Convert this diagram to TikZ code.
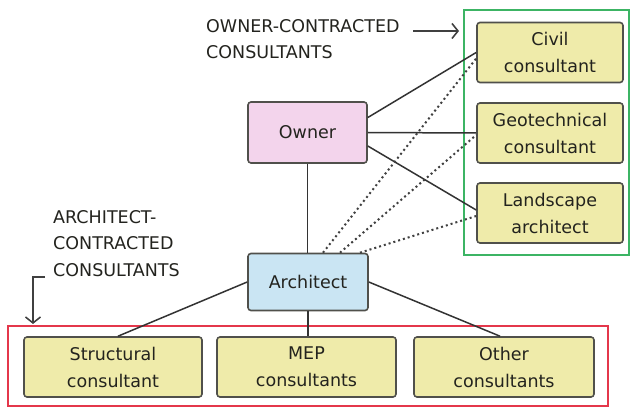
\documentclass[tikz,border=0pt]{standalone}
\usepackage{fontspec}
\setmainfont{DejaVu Sans}
\usetikzlibrary{arrows.meta}
\definecolor{pinkfill}{RGB}{243,212,236}
\definecolor{bluefill}{RGB}{202,229,243}
\definecolor{yelfill}{RGB}{239,235,170}
\definecolor{boxline}{RGB}{80,80,75}
\definecolor{greenframe}{RGB}{60,180,100}
\definecolor{redframe}{RGB}{228,55,75}
\definecolor{txt}{RGB}{35,35,30}
\tikzset{
  box/.style={draw=boxline, line width=1.6pt, rounded corners=3pt, align=center,
    font=\fontsize{17.5}{27}\selectfont, text=txt, inner sep=0pt},
  ownerbox/.style={box, fill=pinkfill, minimum width=119pt, minimum height=61pt},
  archbox/.style={box, fill=bluefill, minimum width=120pt, minimum height=57pt},
  consbox/.style={box, fill=yelfill, minimum height=60pt},
  link/.style={draw=black!80, line width=1.5pt},
  dotlink/.style={draw=black!75, line width=2pt, dash pattern=on 2pt off 3pt},
  note/.style={align=left, font=\fontsize{17.5}{26.5}\selectfont, text=txt, inner sep=0pt, anchor=north west},
  pointer/.style={draw=black!75, line width=1.3pt, -{Straight Barb[length=6pt,width=15pt,line width=1.6pt]}}
}
\begin{document}
\begin{tikzpicture}[x=1pt,y=-1pt]
\useasboundingbox (0,0) rectangle (633,409);
% frames
\draw[greenframe, line width=1.8pt] (464,10) rectangle (629,255);
\draw[redframe, line width=1.8pt] (8,326) rectangle (608,406);
% nodes
\node[ownerbox] (owner) at (307.5,132.5) {Owner};
\node[archbox] (arch) at (308,282) {Architect};
\node[consbox, minimum width=146pt] (civil) at (550,52.5) {Civil\\consultant};
\node[consbox, minimum width=146pt] (geo) at (550,133) {Geotechnical\\consultant};
\node[consbox, minimum width=146pt] (land) at (550,213) {Landscape\\architect};
\node[consbox, minimum width=178pt] (struct) at (113,367) {Structural\\consultant};
\node[consbox, minimum width=179pt] (mep) at (306.5,367) {MEP\\consultants};
\node[consbox, minimum width=180pt] (other) at (504,367) {Other\\consultants};
% labels
\node[note] (ownerlbl) at (206,19) {OWNER-CONTRACTED\\CONSULTANTS};
\node[note] (archlbl) at (53,210) {ARCHITECT-\\CONTRACTED\\CONSULTANTS};
\coordinate (oa1) at (413,31);
\coordinate (oa2) at (459,31);
\draw[pointer] (oa1) -- (oa2);
\coordinate (aa1) at (45,277);
\coordinate (aa2) at (33,277);
\coordinate (aa3) at (33,324);
\draw[pointer] (aa1) -- (aa2) -- (aa3);
% owner links
\draw[link] ([yshift=15pt]owner.east) -- (civil.west);
\draw[link] (owner.east) -- (geo.west);
\draw[link] ([yshift=-13.5pt]owner.east) -- ([yshift=3pt]land.west);
\draw[link] (owner.south) -- (arch.north -| owner.south);
% dotted architect links
\draw[dotlink] ([xshift=15pt]arch.north) -- ([yshift=-6pt]civil.west);
\draw[dotlink] ([xshift=32pt]arch.north) -- ([yshift=-2pt]geo.west);
\draw[dotlink] ([xshift=52pt]arch.north) -- ([yshift=-3pt]land.west);
% architect links
\draw[link] (arch.west) -- ([xshift=5pt]struct.north);
\draw[link] (arch.south) -- (mep.north -| arch.south);
\draw[link] (arch.east) -- ([xshift=-4pt]other.north);
\end{tikzpicture}
\end{document}
